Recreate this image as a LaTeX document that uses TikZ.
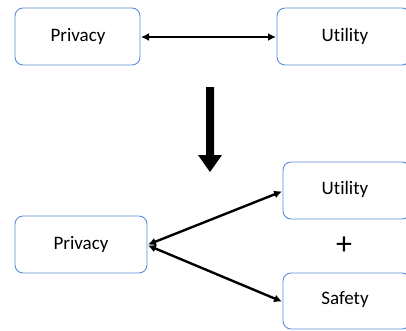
\documentclass[tikz,border=0pt]{standalone}
\usepackage{fontspec}
\setmainfont[Ligatures={NoCommon}]{Carlito}
\usetikzlibrary{arrows.meta}
\definecolor{boxblue}{HTML}{5B8BD9}
\tikzset{
  box/.style={draw=boxblue, line width=0.9pt, rounded corners=8pt, fill=white, inner sep=0pt},
  link/.style={line width=2.4pt, {Latex[length=8pt,width=8pt]}-{Latex[length=8pt,width=8pt]}, shorten <=1pt, shorten >=1pt},
  lbl/.style={font=\fontsize{19}{22}\selectfont}
}
\begin{document}
\begin{tikzpicture}[x=1pt,y=-1pt]
\useasboundingbox (0,0) rectangle (406,330);
% top row
\draw[box] (15,8) rectangle (140,65);
\node[lbl] (p1) at (78,36) {Privacy};
\coordinate (p1e) at (140,37);
\draw[box] (277,8) rectangle (410,65);
\node[lbl] (u1) at (345,36) {Utility};
\coordinate (u1w) at (277,37);
\draw[link] (p1e) -- (u1w);
% big arrow
\coordinate (bs) at (210,87);
\coordinate (bt) at (210,172);
\fill (206,87) -- (214,87) -- (214,155) -- (222,155) -- (210,172) -- (198,155) -- (206,155) -- cycle;
% bottom
\draw[box] (15,216) rectangle (147,273);
\node[lbl] (p2) at (81,244) {Privacy};
\coordinate (p2e) at (147,245);
\draw[box] (283,162) rectangle (410,219);
\node[lbl] (u2) at (345,189) {Utility};
\coordinate (u2w) at (283,191);
\draw[box] (283,273) rectangle (410,329);
\node[lbl] (s2) at (345,300) {Safety};
\coordinate (s2w) at (283,302);
\node[font=\fontsize{32}{34}\selectfont] (plus) at (344,246) {+};
\draw[link] (p2e) -- (u2w);
\draw[link] (p2e) -- (s2w);
\end{tikzpicture}
\end{document}
